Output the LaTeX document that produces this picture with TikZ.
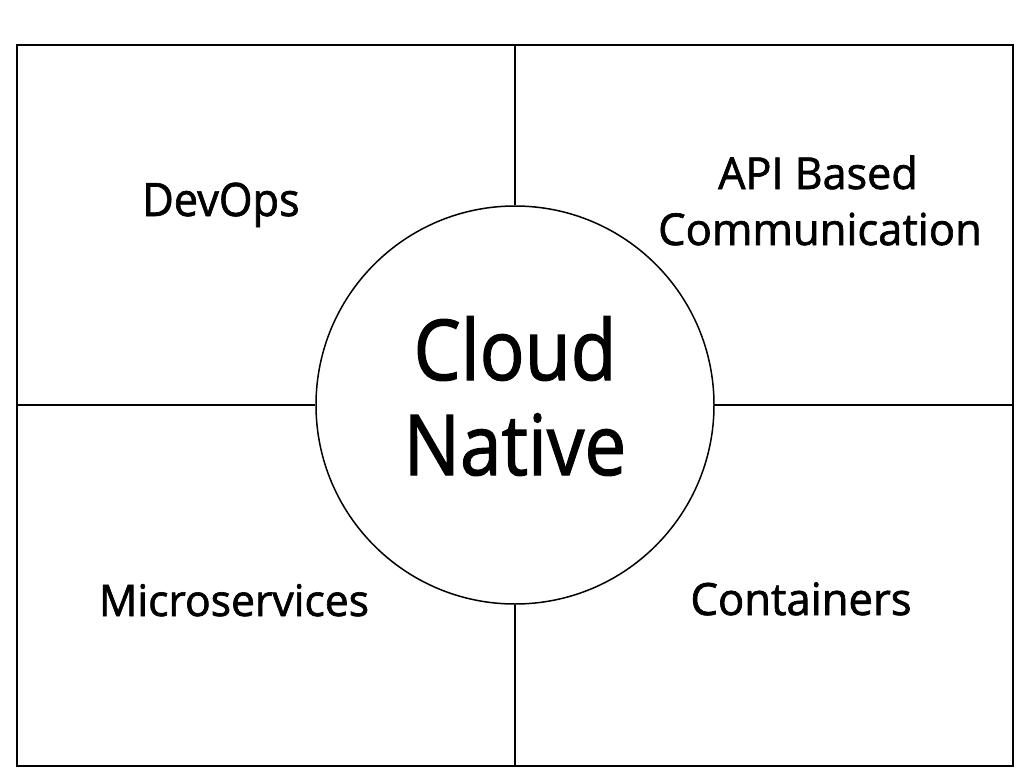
\documentclass[tikz,border=0pt]{standalone}
\usepackage{fontspec}
\setmainfont{Open Sans}
\newfontfamily\heavyfont[FakeBold=1.5]{Open Sans}
\begin{document}
\begin{tikzpicture}[x=1pt,y=-1pt,
  label/.style={anchor=base,inner sep=0pt,font=\heavyfont\fontsize{#1}{#1}\selectfont,align=center},
  thin line/.style={line width=1.5pt},
  frame line/.style={line width=2.2pt}]
\useasboundingbox (0,0) rectangle (1024,773);
\fill[white] (0,0) rectangle (1024,773);
\coordinate (tl) at (17,45);
\coordinate (br) at (1013,766);
\coordinate (top) at (515,45);
\coordinate (bot) at (515,766);
\coordinate (lft) at (17,405);
\coordinate (rgt) at (1013,405);
\node[circle,draw,thin line,minimum size=398pt,inner sep=0pt] (core) at (515,405) {};
\draw[frame line] (tl) rectangle (br);
\draw[thin line] (top) -- (core.north);
\draw[thin line] (core.south) -- (bot);
\draw[thin line] (lft) -- (core.west);
\draw[thin line] (core.east) -- (rgt);
\node[label=46,xscale=0.94] (devops) at (221,216) {DevOps};
\node[label=44,xscale=0.98] (api1) at (818,189) {API Based};
\node[label=44,xscale=0.99] (api2) at (820,245) {Communication};
\node[label=43.5,xscale=0.98] (micro) at (234,616) {Microservices};
\node[label=44.5,xscale=0.98] (cont) at (801,615) {Containers};
\node[label=84,xscale=0.89] (cloud) at (515,380) {Cloud};
\node[label=84,xscale=0.89] (native) at (515,475) {Native};
\end{tikzpicture}
\end{document}
